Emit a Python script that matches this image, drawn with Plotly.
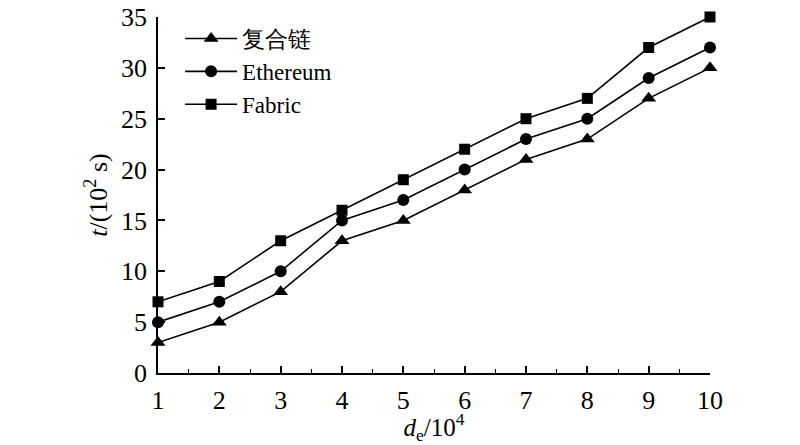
import plotly.graph_objects as go

x_vals = [1, 2, 3, 4, 5, 6, 7, 8, 9, 10]
y_ticks = [0, 5, 10, 15, 20, 25, 30, 35]
composite = [3, 5, 8, 13, 15, 18, 21, 23, 27, 30]
ethereum = [5, 7, 10, 15, 17, 20, 23, 25, 29, 32]
fabric = [7, 9, 13, 16, 19, 22, 25, 27, 32, 35]
names = ["复合链", "Ethereum", "Fabric"]
symbols = ["triangle-up", "circle", "square"]

fig = go.Figure()
for name, ys, sym in zip(names, [composite, ethereum, fabric], symbols):
    fig.add_trace(go.Scatter(
        x=x_vals, y=ys, name=name, mode="lines+markers",
        line=dict(color="black", width=1.6),
        marker=dict(symbol=sym, size=13 if sym == "triangle-up" else (12 if sym == "circle" else 11), color="black"),
        cliponaxis=False,
    ))

font_family = "Liberation Serif"
fs = 26
tick_font = dict(family=font_family, size=fs, color="black")
fig.update_layout(
    width=792, height=437,
    margin=dict(l=150, r=90, t=9, b=72, autoexpand=False),
    plot_bgcolor="white", paper_bgcolor="white",
    font=dict(family=font_family, size=fs, color="black"),
    showlegend=True,
    legend=dict(x=0.04, y=1.0, xanchor="left", yanchor="top",
                bgcolor="rgba(0,0,0,0)", font=dict(size=23, family=font_family),
                itemwidth=52, tracegroupgap=0),
    xaxis=dict(range=[1, 10], tickmode="array", tickvals=x_vals, showline=True, linecolor="black", linewidth=1.5,
               ticks="inside", ticklen=7, tickcolor="black", tickwidth=1.5, tickfont=tick_font,
               showgrid=False, zeroline=False, ticklabelstandoff=3, ticklabeloverflow="allow",
               minor=dict(dtick=0.5, ticks="inside", ticklen=4, tickcolor="black", tickwidth=1.2),
               title=dict(text="<i>d</i><sub>e</sub>/10<sup>4</sup>", standoff=7,
                          font=dict(size=25, family=font_family))),
    yaxis=dict(range=[0, 35], tickmode="array", tickvals=y_ticks, showline=True, linecolor="black", linewidth=1.5,
               ticks="inside", ticklen=7, tickcolor="black", tickwidth=1.5, tickfont=tick_font,
               showgrid=False, zeroline=False, ticklabelstandoff=4, ticklabeloverflow="allow",
               title=dict(text="<i>t</i>/(10<sup>2</sup> s)", standoff=6,
                          font=dict(size=fs, family=font_family))),
)

fig.write_html("out.html")
